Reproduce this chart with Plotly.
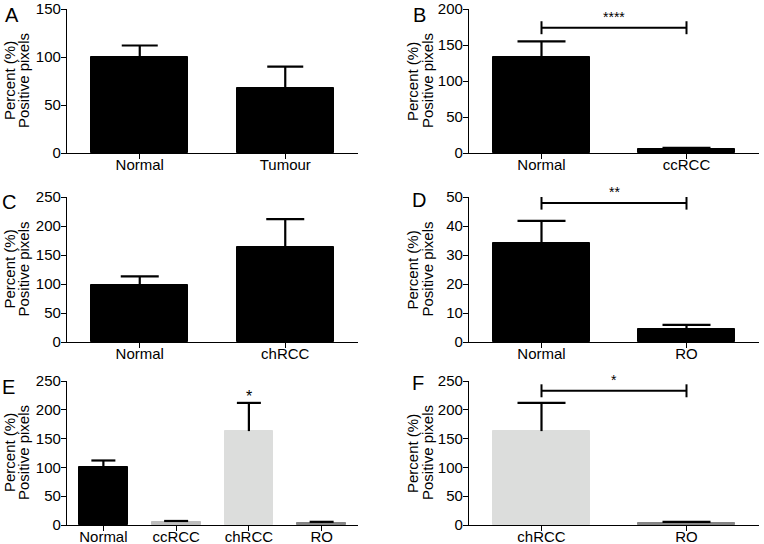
import plotly.graph_objects as go

W, H = 764, 544

# data (mean, SEM)
cats_A = ["Normal", "Tumour"]
mean_A = [100, 68]
sem_A = [12, 22]

cats_B = ["Normal", "ccRCC"]
mean_B = [134, 5]
sem_B = [21, 2]

cats_C = ["Normal", "chRCC"]
mean_C = [99, 163]
sem_C = [14, 49]

cats_D = ["Normal", "RO"]
mean_D = [34.3, 4.6]
sem_D = [7.5, 1.3]

cats_E = ["Normal", "ccRCC", "chRCC", "RO"]
mean_E = [101, 5.5, 163, 4]
sem_E = [11, 1.5, 49, 1.5]

cats_F = ["chRCC", "RO"]
mean_F = [163, 4]
sem_F = [49, 1.5]

# significance: (left idx, right idx, bracket height, label)
sig_B = (0, 1, 174, "****")
sig_D = (0, 1, 47.9, "**")
sig_F = (0, 1, 233, "*")
sig_E_star = (2, "*")

colors_E = ["black", "#bdbdbd", "#dcdddc", "#858585"]
colors_F = ["#dcdddc", "#858585"]

FONT = "Liberation Sans, Arial, Helvetica, sans-serif"

# panel layout in pixels: (x0, x1, ytop, ybottom), cap half width px
panels = [
    ("A", cats_A, mean_A, sem_A, ["black", "black"], 150, 50, (67, 358, 9, 153), 18),
    ("B", cats_B, mean_B, sem_B, ["black", "black"], 200, 50, (469, 759, 9, 153), 24),
    ("C", cats_C, mean_C, sem_C, ["black", "black"], 250, 50, (67, 358, 197, 342), 19),
    ("D", cats_D, mean_D, sem_D, ["black", "black"], 50, 10, (469, 759, 197, 342), 24),
    ("E", cats_E, mean_E, sem_E, colors_E, 250, 50, (67, 358, 381, 525), 12),
    ("F", cats_F, mean_F, sem_F, colors_F, 250, 50, (469, 759, 381, 525), 24),
]

letter_pos = {"A": (12, 15), "B": (419, 15), "C": (9, 202), "D": (419, 200),
              "E": (8, 387), "F": (418, 383)}
# x centres of the two rotated title lines
title_x = {"A": (9, 23), "B": (412, 427), "C": (9, 23), "D": (412, 427),
           "E": (9, 23), "F": (412, 427)}

fig = go.Figure()
shapes = []
annotations = []
layout = {}

for i, (name, cats, mean, sem, cols, ymax, dt, (x0, x1, yt, yb), capw) in enumerate(panels):
    n = i + 1
    xa = "xaxis" if n == 1 else f"xaxis{n}"
    ya = "yaxis" if n == 1 else f"yaxis{n}"
    xr = "x" if n == 1 else f"x{n}"
    yr = "y" if n == 1 else f"y{n}"
    xs = list(range(len(cats)))
    fig.add_trace(go.Bar(
        x=xs, y=mean, xaxis=xr, yaxis=yr,
        width=0.67,
        marker=dict(color=cols, line=dict(color=cols, width=1)),
        showlegend=False,
    ))
    # one-sided error bars (upper only, no cap at the bar top)
    hw = capw / ((x1 - x0) / len(cats))
    ex, ey = [], []
    for k in xs:
        top = mean[k] + sem[k]
        ex += [k, k, None, k - hw, k + hw, None]
        ey += [mean[k], top, None, top, top, None]
    fig.add_trace(go.Scatter(x=ex, y=ey, xaxis=xr, yaxis=yr, mode="lines",
                             line=dict(color="black", width=2.2),
                             showlegend=False, hoverinfo="skip"))
    layout[xa] = dict(
        domain=[x0 / W, x1 / W], anchor=yr, range=[-0.5, len(cats) - 0.5],
        tickmode="array", tickvals=xs, ticktext=cats, automargin=False,
        showline=True, linecolor="black", linewidth=1.3,
        ticks="outside", ticklen=5, tickwidth=1.3, tickcolor="black",
        ticklabelstandoff=-7,
        showgrid=False, zeroline=False, fixedrange=True,
        tickfont=dict(family=FONT, size=15, color="black"),
    )
    layout[ya] = dict(
        domain=[1 - yb / H, 1 - yt / H], anchor=xr, range=[0, ymax], dtick=dt,
        automargin=False,
        showline=True, linecolor="black", linewidth=1.3,
        ticks="outside", ticklen=5, tickwidth=1.3, tickcolor="black",
        ticklabelstandoff=-3,
        showgrid=False, zeroline=False, fixedrange=True,
        tickfont=dict(family=FONT, size=15, color="black"),
    )
    lx, ly = letter_pos[name]
    annotations.append(dict(text=name, x=lx / W, y=1 - ly / H, xref="paper", yref="paper",
                            xanchor="center", yanchor="middle", showarrow=False,
                            font=dict(family=FONT, size=20, color="black")))
    for line_text, tx in zip(["Percent (%)", "Positive pixels"], title_x[name]):
        annotations.append(dict(text=line_text, textangle=-90,
                                x=tx / W, y=1 - (yt + yb) / 2 / H,
                                xref="paper", yref="paper", xanchor="center", yanchor="middle",
                                showarrow=False, font=dict(family=FONT, size=15, color="black")))

    sig = {"B": sig_B, "D": sig_D, "F": sig_F}.get(name)
    if sig:
        a, b, h, lab = sig
        tick = ymax * 0.045
        shapes.append(dict(type="line", xref=xr, yref=yr, x0=a, x1=b, y0=h, y1=h,
                           line=dict(color="black", width=2)))
        for xx in (a, b):
            shapes.append(dict(type="line", xref=xr, yref=yr, x0=xx, x1=xx,
                               y0=h - tick, y1=h + tick, line=dict(color="black", width=2)))
        annotations.append(dict(text=lab, x=(a + b) / 2, y=h, xref=xr, yref=yr,
                                xanchor="center", yanchor="bottom", yshift=1, showarrow=False,
                                font=dict(family=FONT, size=14, color="black")))
    if name == "E":
        idx, lab = sig_E_star
        annotations.append(dict(text=lab, x=idx, y=mean[idx] + sem[idx], xref=xr, yref=yr,
                                xanchor="center", yanchor="bottom", yshift=-4, showarrow=False,
                                font=dict(family=FONT, size=16, color="black")))

fig.update_layout(
    width=W, height=H, autosize=False,
    margin=dict(l=0, r=0, t=0, b=0),
    paper_bgcolor="white", plot_bgcolor="white",
    bargap=0, shapes=shapes, annotations=annotations,
    **layout,
)

# drop the page's default body margin so the figure sits at (0, 0)
fig.write_html("out.html", config={"displayModeBar": False},
               post_script="document.body.style.margin='0px';")
